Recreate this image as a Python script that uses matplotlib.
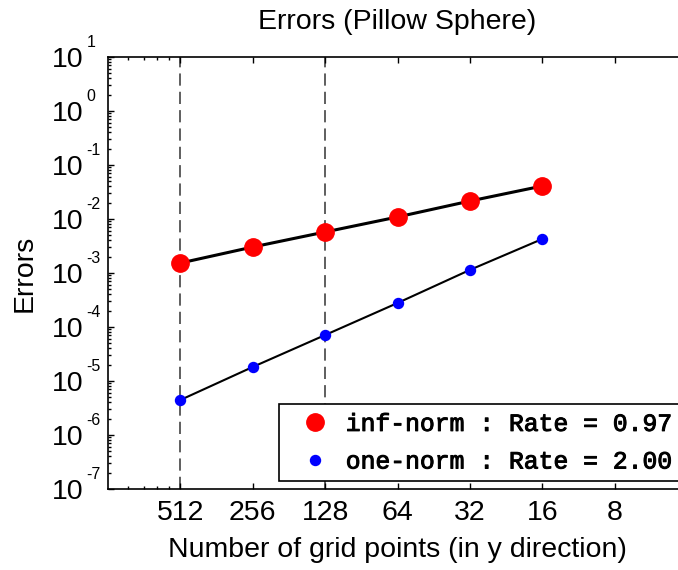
import matplotlib
matplotlib.use("Agg")
import matplotlib.pyplot as plt
import matplotlib.patheffects as pe
from matplotlib.ticker import FixedLocator, LogLocator, NullFormatter, FixedFormatter

plt.rcParams['font.family'] = ['Liberation Sans', 'DejaVu Sans']
plt.rcParams['mathtext.default'] = 'regular'

grid_points = [512, 256, 128, 64, 32, 16]
inf_norm = [1.53e-3, 3.03e-3, 5.75e-3, 1.09e-2, 2.15e-2, 4.08e-2]
one_norm = [4.45e-6, 1.82e-5, 7.1e-5, 2.78e-4, 1.14e-3, 4.26e-3]
x_ticks = [512, 256, 128, 64, 32, 16, 8]
x_minor = [847, 723, 640, 569]
y_exponents = [-7, -6, -5, -4, -3, -2, -1, 0, 1]
ref_lines = [512, 128]
inf_label = "inf-norm : Rate = 0.97"
one_label = "one-norm : Rate = 2.00"

FS = 20.5
W, H = 678, 570
fig = plt.figure(figsize=(W / 100, H / 100), dpi=100)
ax = fig.add_axes([108 / W, (H - 489) / H, (687 - 108) / W, (489 - 57) / H])

ax.set_xscale('log')
ax.set_yscale('log')
ax.set_xlim(1024, 4)
ax.set_ylim(1e-7, 1e1)

for xv in ref_lines:
    ax.axvline(xv, color='#333333', lw=1.1, linestyle=(0, (8, 4)), zorder=1)

ax.plot(grid_points, inf_norm, color='black', lw=2.2, zorder=2)
ax.plot(grid_points, one_norm, color='black', lw=1.5, zorder=2)
ax.plot(grid_points, inf_norm, linestyle='none', marker='o', ms=12.5,
        mfc='red', mec='red', label=inf_label, zorder=3)
ax.plot(grid_points, one_norm, linestyle='none', marker='o', ms=7.2,
        mfc='blue', mec='blue', label=one_label, zorder=3)

ax.xaxis.set_major_locator(FixedLocator(x_ticks))
ax.xaxis.set_major_formatter(FixedFormatter([str(v) for v in x_ticks]))
ax.xaxis.set_minor_locator(FixedLocator(x_minor))
ax.xaxis.set_minor_formatter(NullFormatter())
y_major = [10.0 ** e for e in y_exponents]
ax.yaxis.set_major_locator(FixedLocator(y_major))
ax.yaxis.set_major_formatter(FixedFormatter(['10'] * len(y_major)))
ax.yaxis.set_minor_locator(LogLocator(base=10, subs=range(2, 10), numticks=100))
ax.yaxis.set_minor_formatter(NullFormatter())

ax.tick_params(which='both', direction='in', top=True, right=True, labelsize=FS,
               width=1.0, colors='black')
ax.tick_params(which='major', length=4.5)
ax.tick_params(which='minor', length=2.5)
ax.tick_params(axis='x', pad=8)
ax.tick_params(axis='y', pad=18)
for s in ax.spines.values():
    s.set_linewidth(1.2)

# exponents of the y tick labels
for e, yv in zip(y_exponents, y_major):
    ax.annotate(str(e), xy=(0, yv),
                xycoords=('axes fraction', 'data'),
                xytext=(-15.5, 10.5), textcoords='offset points',
                ha='left', va='center', fontsize=11.5, annotation_clip=False)

ax.set_title("Errors (Pillow Sphere)", fontsize=FS, pad=20)
ax.set_xlabel("Number of grid points (in y direction)", fontsize=FS, labelpad=8)
ax.set_ylabel("Errors", fontsize=FS, labelpad=10)

leg = ax.legend(loc='upper left', bbox_to_anchor=(279 / W, 1 - 404 / H),
                bbox_transform=fig.transFigure, borderaxespad=0,
                prop={'family': 'Liberation Mono', 'size': 17.8},
                fancybox=False, framealpha=1, edgecolor='black',
                numpoints=1, handlelength=2.3, handletextpad=0.08,
                borderpad=0.32, labelspacing=0.55)
leg.get_frame().set_linewidth(1.2)
for t in leg.get_texts():
    t.set_path_effects([pe.withStroke(linewidth=0.7, foreground='black')])

fig.savefig("out.png", dpi=100)
